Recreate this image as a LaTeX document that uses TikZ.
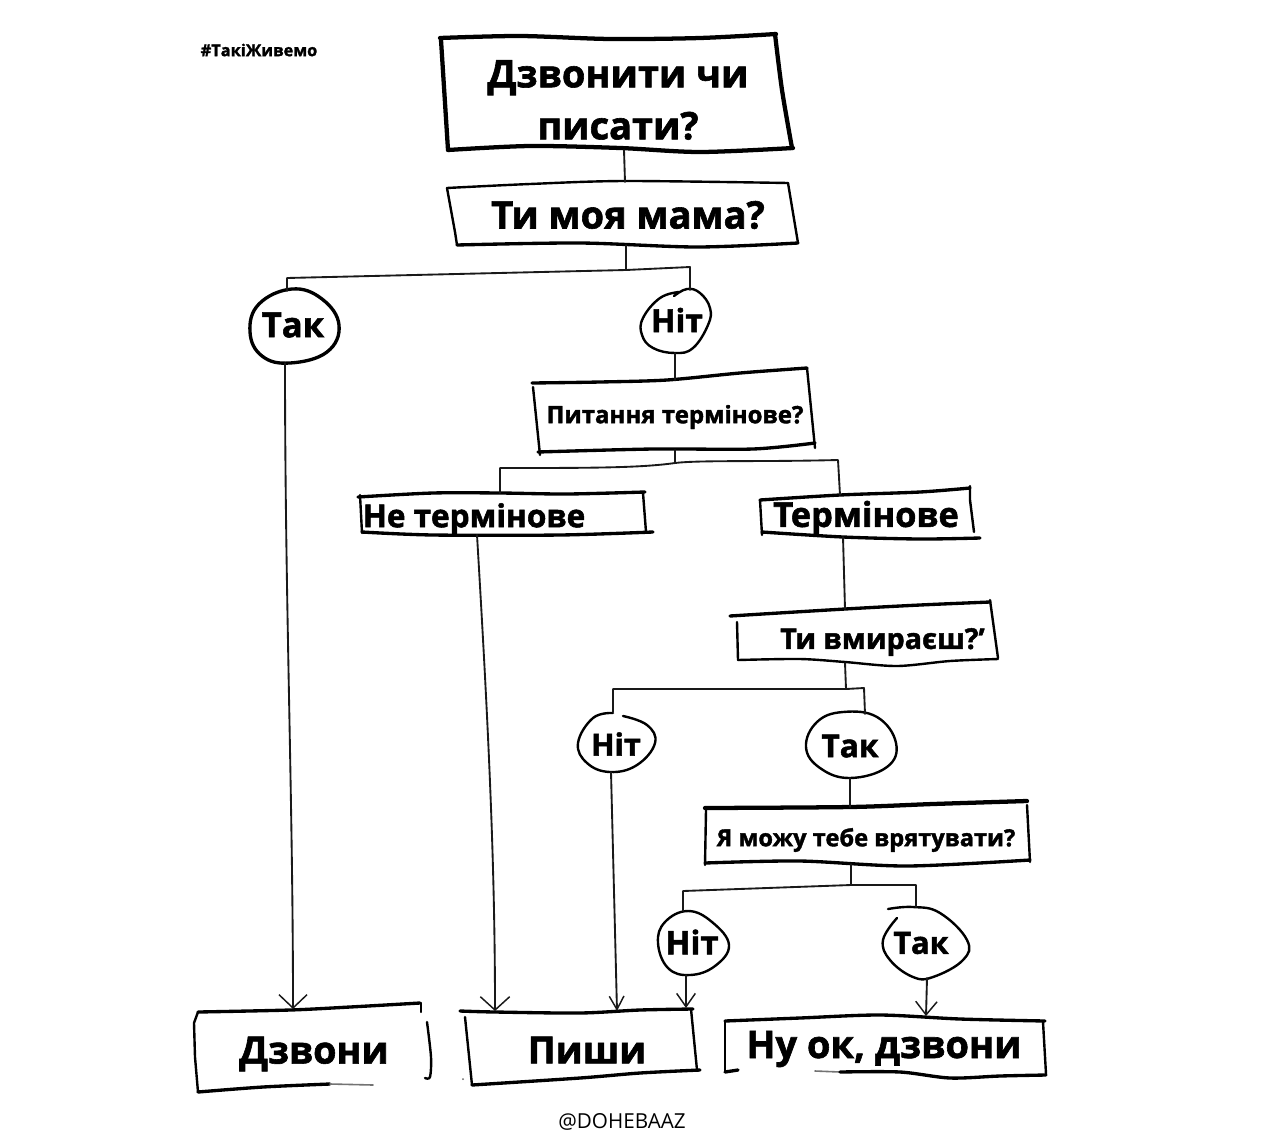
\documentclass[tikz,border=0pt]{standalone}
\usepackage{fontspec}
\setmainfont{Open Sans}[BoldFeatures={FakeBold=1.6}]
\newfontfamily\plainfont{Open Sans}
\usetikzlibrary{arrows.meta}
\tikzset{
  x=0.75pt,y=-0.75pt,
  label text/.style={inner sep=0pt,outer sep=0pt,align=center,text=black,font=\bfseries},
  conn/.style={line width=1.4pt,draw=black!90,line cap=round,line join=round},
  arrowconn/.style={conn,-{Straight Barb[length=10pt,width=#1,line width=1.1pt]}},
  edge thick/.style={line width=3.2pt,line cap=round,line join=round},
  edge mid/.style={line width=2.5pt,line cap=round,line join=round},
  edge thin/.style={line width=1.8pt,line cap=round,line join=round},
  fade edge/.style={line width=1.2pt,draw=black!55,line cap=round},
}
\begin{document}
\begin{tikzpicture}
\useasboundingbox (0,0) rectangle (1280,1142);
\fill[white] (0,0) rectangle (1280,1142);

% text nodes (named boxes)
\node[label text,font=\bfseries\fontsize{28.5}{39}\selectfont] (start) at (618,100) {Дзвонити чи\\писати?};
\node[label text,font=\bfseries\fontsize{28.5}{30}\selectfont] (mama) at (628,215) {Ти моя мама?};
\node[label text,font=\bfseries\fontsize{26}{30}\selectfont] (yes1) at (293,325) {Так};
\node[label text,font=\bfseries\fontsize{24}{28}\selectfont] (no1) at (677,320) {Ніт};
\node[label text,font=\bfseries\fontsize{18}{20}\selectfont] (urgentq) at (675,417) {Питання термінове?};
\node[label text,font=\bfseries\fontsize{23.7}{28}\selectfont] (noturgent) at (474,519) {Не термінове};
\node[label text,font=\bfseries\fontsize{25.8}{28}\selectfont] (urgent) at (866,518) {Термінове};
\node[label text,font=\bfseries\fontsize{21.5}{24}\selectfont] (dying) at (882.5,642) {Ти вмираєш?'};
\node[label text,font=\bfseries\fontsize{23}{24}\selectfont] (no2) at (616,744) {Ніт};
\node[label text,font=\bfseries\fontsize{23.8}{24}\selectfont] (yes2) at (850,746) {Так};
\node[label text,font=\bfseries\fontsize{17.7}{20}\selectfont] (save) at (866,840) {Я можу тебе врятувати?};
\node[label text,font=\bfseries\fontsize{24.5}{26}\selectfont] (no3) at (692,942) {Ніт};
\node[label text,font=\bfseries\fontsize{23}{24}\selectfont] (yes3) at (921,943) {Так};
\node[label text,font=\bfseries\fontsize{28.3}{32}\selectfont] (call) at (314,1054) {Дзвони};
\node[label text,font=\bfseries\fontsize{28.2}{32}\selectfont] (write) at (587,1050) {Пиши};
\node[label text,font=\bfseries\fontsize{28.5}{32}\selectfont] (okcall) at (884,1049) {Ну ок, дзвони};
\node[label text,font=\bfseries\fontsize{12.3}{14}\selectfont] (tag) at (259,50) {\#ТакіЖивемо};
\node[inner sep=0pt,font=\plainfont\fontsize{15.5}{18}\selectfont] (credit) at (622,1122) {@DOHEBAAZ};

% named connector ends on the hand drawn outlines
\coordinate (startS) at (624,150);
\coordinate (mamaN) at (625,182);
\coordinate (mamaS) at (626,245);
\coordinate (yes1N) at (287,291);
\coordinate (no1N) at (690,290);
\coordinate (yes1S) at (285,363);
\coordinate (no1S) at (675,353);
\coordinate (urgentqN) at (675,380);
\coordinate (urgentqS) at (675,450);
\coordinate (noturgentN) at (500,493);
\coordinate (urgentN) at (840,495);
\coordinate (noturgentS) at (477,535);
\coordinate (urgentS) at (843,537);
\coordinate (dyingN) at (845,609);
\coordinate (dyingS) at (845,663);
\coordinate (no2N) at (613,712);
\coordinate (yes2N) at (865,714);
\coordinate (no2S) at (611,772);
\coordinate (yes2S) at (850,778);
\coordinate (saveN) at (850,807);
\coordinate (saveS) at (851,864);
\coordinate (no3N) at (683,911);
\coordinate (yes3N) at (916,907);
\coordinate (no3S) at (686,975);
\coordinate (yes3S) at (927,978);
\coordinate (callN) at (293,1009);
\coordinate (writeA) at (495,1011);
\coordinate (writeB) at (617,1011);
\coordinate (writeC) at (686,1008);
\coordinate (okcallN) at (926,1016);

% hand drawn outlines
\draw[edge thick] plot[smooth,tension=.5] coordinates {(440,38) (520,36) (610,39) (700,38) (776,34)};
\draw[edge thick] plot[smooth,tension=.5] coordinates {(775,34) (782,90) (792,148)};
\draw[edge thick] (441,40) -- (448,150);
\draw[edge thick] plot[smooth,tension=.5] coordinates {(448,150) (530,146) (620,148) (700,152) (793,148)};

\draw[edge thin] plot[smooth,tension=.5] coordinates {(447,188) (530,184) (625,181) (788,183)};
\draw[edge thin] (447,188) -- (455,232) -- (457,245);
\draw[edge thin] (788,183) -- (798,243);
\draw[edge mid] plot[smooth,tension=.5] coordinates {(457,245) (580,243) (697,247) (798,243)};

\draw[edge mid] plot[smooth,tension=.5] coordinates {(532,383) (600,382) (667,380) (740,373) (807,368)};
\draw[edge thin] (533,387) -- (540,455);
\draw[edge thin] (807,368) -- (815,448);
\draw[edge mid] plot[smooth,tension=.5] coordinates {(538,452) (653,449) (753,449) (815,443)};

\draw[edge mid] plot[smooth,tension=.5] coordinates {(358,497) (433,493) (500,493) (567,494) (645,492)};
\draw[edge thin] (360,495) -- (362,533);
\draw[edge thin] (643,493) -- (646,532);
\draw[edge mid] plot[smooth,tension=.5] coordinates {(362,532) (433,535) (560,535) (653,532)};

\draw[edge mid] plot[smooth,tension=.5] coordinates {(760,500) (840,495) (920,492) (970,488)};
\draw[edge thin] (760,500) -- (762,535);
\draw[edge thin] (970,486) -- (970,500) -- (974,532);
\draw[edge mid] plot[smooth,tension=.5] coordinates {(762,532) (843,537) (920,539) (980,538)};

\draw[edge mid] plot[smooth,tension=.5] coordinates {(730,616) (845,609) (920,605) (990,602)};
\draw[edge thin] (737,622) -- (738,660);
\draw[edge thin] (990,600) -- (998,658);
\draw[edge thin] plot[smooth,tension=.5] coordinates {(738,660) (800,659) (845,662) (897,666) (950,661) (998,659)};

\draw[edge thick] plot[smooth,tension=.5] coordinates {(705,808) (850,807) (933,804) (1027,801)};
\draw[edge thin] (706,810) -- (705,865);
\draw[edge thin] (1027,805) -- (1030,862);
\draw[edge mid] plot[smooth,tension=.5] coordinates {(705,863) (800,861) (907,866) (1030,860)};

\draw[edge mid] plot[smooth,tension=.5] coordinates {(198,1012) (290,1010) (350,1007) (420,1003)};
\draw[edge thin] (421,1003) -- (421,1012);
\draw[edge thin] (198,1012) -- (194,1023) -- (195,1057) -- (198,1092);
\draw[edge mid] plot[smooth,tension=.5] coordinates {(198,1092) (263,1087) (330,1084)};
\draw[fade edge] (330,1084) -- (373,1085);
\draw[edge thin] plot[smooth,tension=.5] coordinates {(427,1022) (431,1057) (430,1077) (425,1078)};

\draw[edge mid] plot[smooth,tension=.5] coordinates {(460,1011) (495,1012) (580,1013) (640,1010) (693,1009)};
\draw[edge thin] (465,1017) -- (472,1085);
\draw[edge thin] (691,1009) -- (697,1070);
\draw[edge mid] plot[smooth,tension=.5] coordinates {(472,1085) (580,1078) (640,1073) (700,1070)};
\fill[black!60] (463,1079) circle[radius=1];

\draw[edge mid] plot[smooth,tension=.5] coordinates {(725,1021) (800,1018) (880,1015) (960,1019) (1045,1021)};
\draw[edge thin] (725,1021) -- (725,1072);
\draw[edge thin] (1043,1022) -- (1046,1074);
\draw[edge mid] plot[smooth,tension=.5] coordinates {(725,1072) (738,1070)};
\draw[fade edge] (815,1071) -- (840,1072);
\draw[edge mid] plot[smooth,tension=.5] coordinates {(840,1072) (900,1072) (950,1078) (1000,1076) (1046,1075)};

% circles
\draw[edge mid] plot[smooth cycle,tension=.7] coordinates {(292,289) (322,299) (339,325) (327,352) (290,363) (262,356) (250,332) (259,304)};
\draw[edge thin] plot[smooth,tension=.7] coordinates {(679,292) (660,298) (643,318) (642,335) (653,348) (675,353) (693,348) (708,325) (710,308) (700,293) (687,289) (674,296)};
\draw[edge thin] plot[smooth,tension=.7] coordinates {(613,713) (593,718) (578,743) (587,763) (610,772) (637,765) (655,743) (647,725) (623,716)};
\draw[edge thin] plot[smooth cycle,tension=.7] coordinates {(843,712) (877,717) (896,743) (887,767) (850,778) (820,768) (806,747) (817,722)};
\draw[edge thin] plot[smooth cycle,tension=.7] coordinates {(688,911) (712,922) (729,945) (715,966) (690,975) (668,968) (658,943) (665,922)};
\draw[edge thin] plot[smooth,tension=.7] coordinates {(888,909) (913,907) (940,913) (967,940) (963,960) (933,977) (913,977) (890,960) (883,940) (897,918)};

% connectors
\coordinate (j1) at (626,270);
\coordinate (j1l) at (287,278);
\coordinate (j1r) at (690,267);
\draw[conn] (startS) -- (mamaN);
\draw[conn] (mamaS) -- (j1);
\draw[conn] (yes1N) -- (j1l) -- (j1) -- (j1r) -- (no1N);
\draw[conn] (no1S) -- (urgentqN);
\coordinate (j2) at (675,463);
\coordinate (j2l) at (500,468);
\coordinate (j2r) at (838,460);
\draw[conn] (urgentqS) -- (j2);
\draw[conn] (noturgentN) -- (j2l) .. controls (590,468) and (640,468) .. (j2) .. controls (700,460) and (760,462) .. (j2r) -- (urgentN);
\draw[conn] (urgentS) -- (dyingN);
\coordinate (j3) at (846,689);
\coordinate (j3l) at (613,689);
\coordinate (j3r) at (864,688);
\draw[conn] (dyingS) -- (j3);
\draw[conn] (no2N) -- (j3l) -- (j3) -- (j3r) -- (yes2N);
\draw[conn] (yes2S) -- (saveN);
\coordinate (j4) at (851,885);
\coordinate (j4l) at (683,891);
\coordinate (j4r) at (916,885);
\draw[conn] (saveS) -- (j4);
\draw[conn] (no3N) -- (j4l) -- (j4) -- (j4r) -- (yes3N);

% arrows to the terminal boxes
\draw[arrowconn=21pt] (yes1S) .. controls (285,600) and (293,800) .. (callN);
\draw[arrowconn=22pt] (noturgentS) .. controls (488,720) and (495,860) .. (writeA);
\draw[arrowconn=11pt] (no2S) -- (writeB);
\draw[arrowconn=14pt] (no3S) -- (writeC);
\draw[arrowconn=16pt] (yes3S) -- (okcallN);
\end{tikzpicture}
\end{document}
